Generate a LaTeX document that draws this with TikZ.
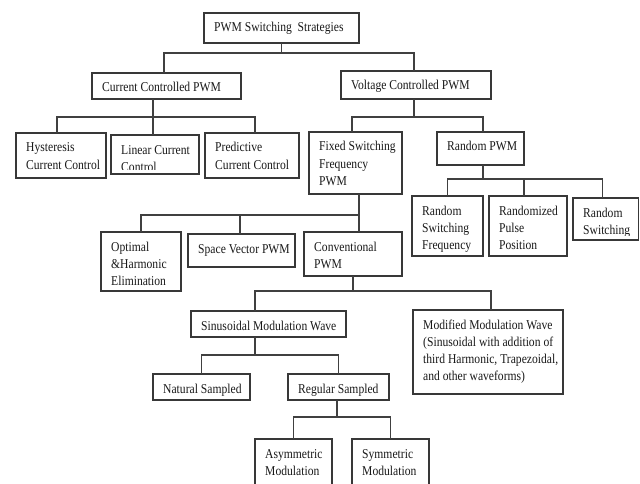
\documentclass[tikz,border=0pt]{standalone}
\usepackage{fontspec}
\setmainfont{Liberation Serif}[FakeStretch=0.86]
\usetikzlibrary{calc}
\tikzset{
  boxst/.style={draw=black!78, line width=1.4pt, inner sep=0pt, outer sep=0pt},
  txtst/.style={inner sep=0pt, font=\fontsize{13.5}{17.3}\selectfont, text=black!90},
  conn/.style={draw=black!75, line width=1.2pt},
}
% name, left, top, right, bottom, text
\newcommand\bx[6]{%
  \node[boxst, anchor=north west, minimum width={#4-#2}, minimum height={#5-#3}] (#1) at (#2,#3) {};
  \begin{scope}
    \clip (#2+1,#3+1) rectangle (#4-1,#5-4.5);
    \node[txtst, anchor=base west] (#1-t) at (#2+10,#3+19)
      {\begin{tabular}[t]{@{}l@{}}#6\end{tabular}};
  \end{scope}}
\begin{document}
\begin{tikzpicture}[x=1pt,y=-1pt]
\useasboundingbox (0,0) rectangle (640,484);
\fill[white] (0,0) rectangle (640,484);
\clip (0,0) rectangle (640,484);
\bx{root}{204}{13}{359}{43}{PWM Switching~ Strategies}
\bx{cc}{92}{73}{241}{99}{Current Controlled PWM}
\bx{vc}{341}{71}{491}{99}{Voltage Controlled PWM}
\bx{hys}{16}{133}{106}{178}{Hysteresis\\Current Control}
\bx{lin}{111}{135}{199}{174}{Linear Current\\Control}
\bx{pred}{205}{133}{299}{178}{Predictive\\Current Control}
\bx{fix}{309}{132}{402}{194}{Fixed Switching\\Frequency\\PWM}
\bx{rpwm}{437}{132}{524}{165}{Random PWM}
\bx{opt}{101}{232}{181}{291}{Optimal\\\&Harmonic\\Elimination}
\bx{svp}{188}{234}{295}{267}{Space Vector PWM}
\bx{conv}{304}{232}{402}{276}{Conventional\\PWM}
\bx{rsf}{412}{196}{483}{256}{Random\\Switching\\Frequency}
\bx{rpp}{489}{196}{567}{256}{Randomized\\Pulse\\Position}
\bx{rsw}{573}{198}{638.5}{240}{Random\\Switching}
\bx{sin}{191}{311}{346}{337}{Sinusoidal Modulation Wave}
\bx{mod}{413}{310}{563}{394}{Modified Modulation Wave\\(Sinusoidal with addition of\\third Harmonic, Trapezoidal,\\and other waveforms)}
\bx{nat}{153}{374}{250}{400}{Natural Sampled}
\bx{reg}{288}{374}{389}{400}{Regular Sampled}
\bx{asy}{255}{439}{332}{500}{Asymmetric\\Modulation}
\bx{sym}{352}{439}{429}{500}{Symmetric\\Modulation}
% connectors
\draw[conn] (root.south) -- ++(0,10);
\draw[conn] ([xshift=-2.5]cc.north) -- ++(0,-20) -| ([xshift=-2]vc.north);
\draw[conn] ([xshift=-13.5]cc.south) -- ([xshift=-13.5]cc.south |- lin.north);
\draw[conn] ([xshift=-4]hys.north) -- ++(0,-16) -| ([xshift=3]pred.north);
\draw[conn] ([xshift=-2]vc.south) -- ++(0,18);
\draw[conn] ([xshift=-3.5]fix.north) -- ++(0,-15) -| ([xshift=2.5]rpwm.north);
\draw[conn] ([xshift=3.5]fix.south) -- ([xshift=3.5]fix.south |- conv.north);
\draw[conn] (opt.north) -- ++(0,-17) -| ([xshift=3.5]fix.south);
\draw[conn] ([xshift=-1.5]svp.north) -- ++(0,-19);
\draw[conn] ([xshift=2.5]rpwm.south) -- ++(0,14);
\draw[conn] (rsf.north) -- ++(0,-17) -| ([xshift=-3]rsw.north);
\draw[conn] ([xshift=-4]rpp.north) -- ++(0,-17);
\draw[conn] (conv.south) -- ++(0,15);
\draw[conn] ([xshift=-13.5]sin.north) -- ++(0,-20) -| ([xshift=3]mod.north);
\draw[conn] ([xshift=-13.5]sin.south) -- ++(0,18);
\draw[conn] (nat.north) -- ++(0,-19) -| (reg.north);
\draw[conn] ([xshift=-1.5]reg.south) -- ++(0,17);
\draw[conn] (asy.north) -- ++(0,-22) -| (sym.north);
\end{tikzpicture}
\end{document}
